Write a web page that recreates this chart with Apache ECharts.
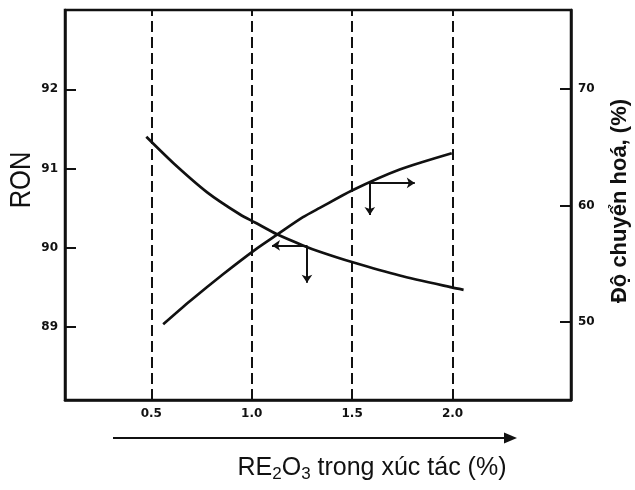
<!DOCTYPE html>
<html>
<head>
<meta charset="utf-8">
<script src="https://cdn.jsdelivr.net/npm/echarts@6/dist/echarts.min.js"></script>
<style>
  html, body { margin: 0; padding: 0; background: #fff; }
  #chart { width: 635px; height: 490px; }
</style>
</head>
<body>
<div id="chart"></div>
<script>
// RE2O3 trong xuc tac (%) on x, RON on the left axis, conversion (%) on the right
var xTicks = [0.5, 1.0, 1.5, 2.0];
var ronTicks = [89, 90, 91, 92];
var convTicks = [50, 60, 70];

var ronX = [0.475, 0.609, 0.778, 0.942, 1.016, 1.126, 1.255, 1.339, 1.499, 1.737, 1.996, 2.055];
var ronY = [91.40, 91.07, 90.70, 90.42, 90.32, 90.17, 90.03, 89.95, 89.82, 89.65, 89.50, 89.47];

var convX = [0.559, 0.693, 0.857, 1.016, 1.126, 1.255, 1.339, 1.499, 1.737, 1.996];
var convY = [49.8, 51.8, 54.1, 56.2, 57.5, 59.0, 59.8, 61.3, 63.1, 64.5];

// small L-shaped arrows that say which axis each curve is read on
var ronArrow = { x: 1.275, toX: 1.101, y: 90.03, downTo: 89.56 };
var convArrow = { x: 1.588, toX: 1.812, y: 61.95, downTo: 59.2 };

var ink = '#111';
var tickFont = 'DejaVu Sans';

function pairs(xs, ys) {
  return xs.map(function (x, i) { return [x, ys[i]]; });
}

function arrowLines(a) {
  return [
    [{ coord: [a.x, a.y] }, { coord: [a.toX, a.y] }],
    [{ coord: [a.x, a.y] }, { coord: [a.x, a.downTo] }]
  ];
}

var chart = echarts.init(document.getElementById('chart'), null, { renderer: 'canvas' });

var option = {
  backgroundColor: '#fff',
  animation: false,
  grid: {
    left: 65, right: 64, top: 10, bottom: 90,
    show: true, borderColor: ink, borderWidth: 2.5
  },
  xAxis: {
    type: 'value',
    min: 0.07,
    max: 2.59,
    axisLine: { show: true, lineStyle: { color: ink, width: 2.5 } },
    axisTick: { show: false },
    splitLine: { show: false },
    axisLabel: {
      customValues: xTicks,
      formatter: function (v) { return v.toFixed(1); },
      color: ink, fontFamily: tickFont, fontWeight: 'bold', fontSize: 12, margin: 8
    }
  },
  yAxis: [{
    type: 'value',
    position: 'left',
    min: 88.08,
    max: 93.0,
    axisLine: { show: true, lineStyle: { color: ink, width: 2.5 } },
    axisTick: { show: true, inside: true, length: 11, customValues: ronTicks, lineStyle: { color: ink, width: 2 } },
    splitLine: { show: false },
    axisLabel: {
      customValues: ronTicks,
      color: ink, fontFamily: tickFont, fontWeight: 'bold', fontSize: 12, margin: 7
    }
  }, {
    type: 'value',
    position: 'right',
    min: 43.3,
    max: 76.8,
    axisLine: { show: true, lineStyle: { color: ink, width: 2.5 } },
    axisTick: { show: true, inside: true, length: 11, customValues: convTicks, lineStyle: { color: ink, width: 2 } },
    splitLine: { show: false },
    axisLabel: {
      customValues: convTicks,
      color: ink, fontFamily: tickFont, fontWeight: 'bold', fontSize: 12, margin: 7
    }
  }],
  series: [{
    // dashed guides at the tick positions
    name: 'guides',
    type: 'line',
    data: [],
    silent: true,
    markLine: {
      silent: true,
      symbol: 'none',
      label: { show: false },
      lineStyle: { color: ink, width: 2, type: [11, 5] },
      data: xTicks.map(function (v) { return { xAxis: v }; })
    }
  }, {
    name: 'RON',
    type: 'line',
    yAxisIndex: 0,
    smooth: 0.25,
    showSymbol: false,
    lineStyle: { color: ink, width: 2.7 },
    data: pairs(ronX, ronY),
    markLine: {
      silent: true,
      symbol: ['none', 'arrow'],
      symbolSize: 8,
      label: { show: false },
      lineStyle: { color: ink, width: 2, type: 'solid' },
      data: arrowLines(ronArrow)
    }
  }, {
    name: 'Độ chuyển hoá',
    type: 'line',
    yAxisIndex: 1,
    smooth: 0.25,
    showSymbol: false,
    lineStyle: { color: ink, width: 2.7 },
    data: pairs(convX, convY),
    markLine: {
      silent: true,
      symbol: ['none', 'arrow'],
      symbolSize: 8,
      label: { show: false },
      lineStyle: { color: ink, width: 2, type: 'solid' },
      data: arrowLines(convArrow)
    }
  }],
  graphic: [{
    type: 'text',
    x: 22, y: 180,
    rotation: Math.PI / 2,
    scaleX: 0.88,
    style: {
      text: 'RON',
      font: '29px "Liberation Sans", sans-serif',
      fill: ink,
      textAlign: 'center', textVerticalAlign: 'middle',
      align: 'center', verticalAlign: 'middle'
    }
  }, {
    type: 'text',
    x: 620, y: 201,
    rotation: Math.PI / 2,
    style: {
      text: 'Độ chuyển hoá, (%)',
      font: 'bold 22px "Liberation Sans", sans-serif',
      fill: ink,
      textAlign: 'center', textVerticalAlign: 'middle',
      align: 'center', verticalAlign: 'middle'
    }
  }, {
    type: 'line',
    shape: { x1: 113, y1: 438, x2: 508, y2: 438 },
    style: { stroke: ink, lineWidth: 2 }
  }, {
    type: 'polygon',
    shape: { points: [[504, 432.5], [517, 438], [504, 443.5]] },
    style: { fill: ink }
  }, {
    type: 'text',
    x: 372, y: 468,
    style: {
      text: '{a|RE}{s|2}{a|O}{s|3}{a| trong xúc tác (%)}',
      rich: {
        a: { fontSize: 25, fontFamily: 'Liberation Sans, sans-serif', color: ink },
        s: { fontSize: 17, fontFamily: 'Liberation Sans, sans-serif', color: ink, padding: [12, 0, 0, 0] }
      },
      fill: ink,
      textAlign: 'center', textVerticalAlign: 'middle',
      align: 'center', verticalAlign: 'middle'
    }
  }]
};

chart.setOption(option);
</script>
</body>
</html>
